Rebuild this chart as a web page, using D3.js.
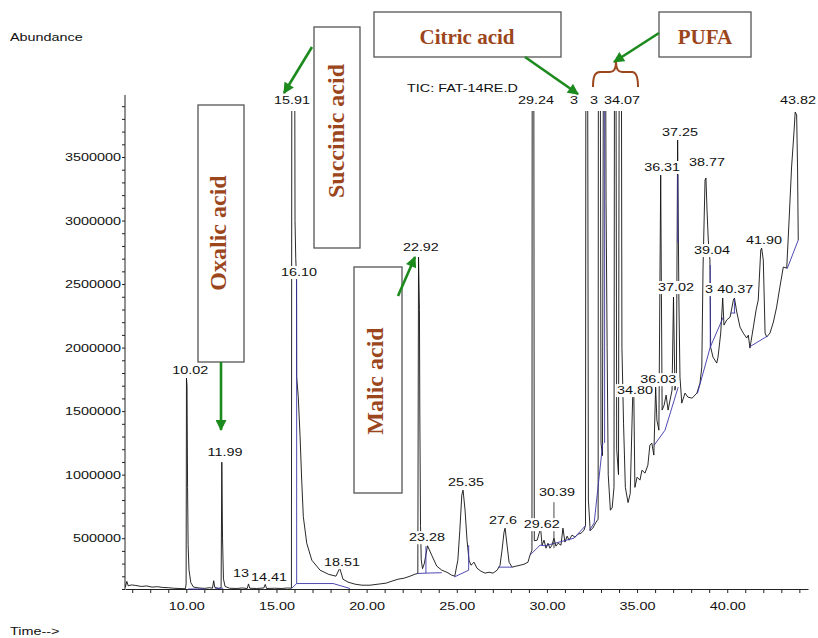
<!DOCTYPE html>
<html>
<head>
<meta charset="utf-8">
<script src="https://cdn.jsdelivr.net/npm/d3@7"></script>
<style>
body { margin: 0; background: #fff; }
svg { display: block; }
.cs { font-family: "Liberation Sans", Arial, sans-serif; font-size: 11.5px; fill: #111; }
.note { font-family: "Liberation Serif", "Times New Roman", serif; font-weight: bold; fill: #9b461c; }
</style>
</head>
<body>
<script>
// ---- data (time in min, abundance) ----
const signal = [
  [6.62,115000],[6.70,160000],[6.78,125000],[6.95,132000],[7.2,128000],[7.5,120000],[7.8,124000],
  [8.1,115000],[8.4,118000],[8.7,112000],[9.0,110000],[9.3,106000],[9.6,104000],[9.95,102000],
  [9.99,140000],[10.01,1760000],[10.04,1700000],[10.07,900000],[10.1,450000],[10.15,250000],
  [10.25,150000],[10.4,115000],[10.7,108000],[11.0,105000],[11.3,110000],[11.45,106000],
  [11.52,165000],[11.58,112000],[11.8,104000],[11.93,110000],[11.97,1098000],[12.01,500000],
  [12.06,180000],[12.15,120000],[12.4,106000],[12.8,104000],[13.1,108000],[13.38,104000],
  [13.45,140000],[13.52,106000],[13.9,104000],[14.3,108000],[14.38,138000],[14.45,104000],
  [14.9,106000],[15.3,104000],[15.6,108000],[15.83,106000],
  [15.86,6000000],[15.99,6000000],[16.03,3000000],[16.07,2700000],[16.11,2560000],[16.12,1770000],
  [16.21,1613000],[16.31,1300000],[16.40,957000],[16.49,669000],[16.68,460000],[16.96,327000],
  [17.42,248000],[17.9,215000],[18.3,201000],[18.51,264000],[18.69,177000],[18.97,154000],
  [19.36,138000],[19.74,130000],[20.19,130000],[20.63,138000],[21.08,146000],[21.41,162000],
  [21.74,177000],[22.08,185000],[22.41,201000],[22.69,217000],[22.84,222000],
  [22.88,2712000],[22.93,2300000],[22.95,1500000],[22.99,600000],[23.03,330000],[23.1,260000],
  [23.2,300000],[23.38,440000],[23.61,366000],[23.89,280000],[24.17,248000],[24.45,232000],
  [24.72,209000],[24.89,201000],[25.06,327000],[25.17,563000],[25.28,840000],[25.35,878000],
  [25.46,720000],[25.57,484000],[25.68,327000],[25.79,287000],[25.96,311000],[26.12,264000],
  [26.34,240000],[26.57,225000],[26.79,232000],[27.01,225000],[27.24,248000],[27.40,287000],
  [27.51,405000],[27.62,547000],[27.68,579000],[27.79,445000],[27.90,311000],[28.07,272000],
  [28.29,280000],[28.51,287000],[28.73,295000],[28.95,311000],[29.06,366000],[29.17,405000],
  [29.19,6000000],[29.26,6000000],[29.30,480000],[29.46,484000],[29.57,539000],[29.65,579000],
  [29.73,445000],[29.84,484000],[29.95,421000],[30.06,460000],[30.17,421000],[30.28,445000],
  [30.39,500000],[30.50,437000],[30.62,460000],[30.78,445000],[30.89,579000],[31.00,469000],
  [31.12,516000],[31.23,484000],[31.39,524000],[31.56,508000],[31.73,532000],[31.89,539000],
  [32.06,563000],[32.14,602000],
  [32.17,6000000],[32.24,6000000],[32.30,800000],[32.40,560000],[32.55,580000],[32.70,620000],
  [32.84,650000],[32.86,6000000],[32.94,6000000],[33.00,1250000],[33.08,1150000],[33.16,6000000],
  [33.22,6000000],[33.28,3150000],[33.34,2000000],[33.40,1000000],[33.52,720000],[33.62,740000],
  [33.72,900000],[33.76,6000000],[33.81,6000000],[33.87,1200000],[33.97,1000000],[34.03,6000000],
  [34.11,6000000],[34.16,2000000],[34.25,1400000],[34.35,900000],[34.50,780000],[34.62,850000],
  [34.76,1630000],[34.82,1630000],[34.88,900000],[35.00,980000],[35.16,957000],[35.27,1035000],
  [35.44,1012000],[35.60,1075000],[35.71,1232000],[35.82,1248000],[35.93,1154000],[36.03,1689000],
  [36.10,1429000],[36.21,1350000],[36.31,3358000],[36.39,1508000],[36.50,1547000],[36.61,1626000],
  [36.72,1508000],[36.83,1587000],[36.94,1665000],[37.02,2398000],[37.10,1665000],[37.18,1744000],
  [37.25,3634000],[37.32,2374000],[37.38,1768000],[37.48,1563000],[37.66,1642000],[37.82,1610000],
  [38.05,1602000],[38.32,1642000],[38.49,1720000],[38.59,1846000],[38.66,2634000],[38.77,3319000],
  [38.82,3335000],[38.88,3083000],[38.95,2846000],[39.04,2689000],[39.08,2004000],[39.21,1925000],
  [39.42,1878000],[39.49,1925000],[39.64,2114000],[39.75,2390000],[39.82,2177000],[39.97,2217000],
  [40.16,2240000],[40.34,2374000],[40.40,2390000],[40.53,2280000],[40.71,2161000],[40.89,2114000],
  [41.08,2075000],[41.17,2098000],[41.26,1996000],[41.45,2161000],[41.60,2295000],[41.72,2374000],
  [41.86,2768000],[41.91,2783000],[42.00,2689000],[42.10,2114000],[42.19,2083000],[42.37,2114000],
  [42.56,2201000],[42.74,2319000],[42.92,2476000],[43.11,2634000],[43.30,2626000],[43.44,3028000],
  [43.57,3421000],[43.70,3689000],[43.77,3854000],[43.85,3831000],[43.90,3421000],[43.94,2846000]
];

// integration baselines / drop lines (blue)
const baselines = [
  [[10.10,100000],[11.03,100000]],
  [[11.6,106000],[12.05,106000]],
  [[15.85,106000],[16.12,143000],[18.14,143000],[19.08,104000]],
  [[16.12,143000],[16.12,2540000]],
  [[22.84,222000],[23.29,225000],[24.17,228000]],
  [[23.29,225000],[23.29,437000]],
  [[24.87,195000],[25.66,248000]],
  [[25.66,248000],[25.66,445000]],
  [[27.29,272000],[28.07,272000]],
  [[29.06,366000],[29.62,445000],[29.90,440000],[31.5,500000],[32.15,600000]],
  [[32.35,560000],[32.62,620000],[33.10,1250000]],
  [[33.2,1250000],[33.2,3900000]],
  [[35.95,1232000],[36.55,1350000],[37.28,1689000]],
  [[37.26,2823000],[37.26,3358000]],
  [[38.35,1640000],[39.06,2004000],[39.78,2240000]],
  [[39.06,2004000],[39.06,2650000]],
  [[40.2,2272000],[40.45,2272000]],
  [[40.40,2272000],[40.40,2380000]],
  [[41.22,2004000],[42.22,2090000]],
  [[43.32,2620000],[43.94,2846000]]
];

// peak labels, in retention order (later ones cover earlier ones)
const labelText  = ["10.02","11.99","13","14.41","15.91","16.10","18.51","22.92","23.28","25.35","27.6",
                    "29.24","29.62","30.39","3","3","34.07","34.80","36.03","36.31","37.02","37.25",
                    "38.77","39.04","3","40.37","41.90","43.82"];
const labelTime  = [10.22,12.15,13.04,14.59,15.86,16.25,18.64,23.01,23.35,25.51,27.57,
                    29.40,29.72,30.56,31.50,32.61,34.16,34.89,36.17,36.39,37.16,37.38,
                    38.88,39.16,38.99,40.45,42.04,43.93];
const labelLevel = [1791000,1146000,193000,161000,3917000,2563000,280000,2760000,476000,909000,611000,
                    3917000,579000,830000,3917000,3917000,3917000,1634000,1720000,3390000,2445000,3665000,
                    3429000,2736000,2429000,2429000,2815000,3917000];

const xMinor = d3.range(7, 45, 1);
const xMajor = [10, 15, 20, 25, 30, 35, 40];
const yMinor = d3.range(1, 40).map(i => i * 100000);
const yMajor = [500000, 1000000, 1500000, 2000000, 2500000, 3000000, 3500000];

const compounds = ["Oxalic acid", "Succinic acid", "Malic acid", "Citric acid", "PUFA"];

// ---- drawing ----
const W = 818, H = 638;
const STRETCH = 1.25;

const svg = d3.select("body").append("svg").attr("width", W).attr("height", H);

const x = d3.scaleLinear().domain([6.6, 44.48]).range([125, 808]);
const y = d3.scaleLinear().domain([100000, 3988000]).range([589, 95]);

function stretch(sel) {
  sel.each(function () {
    const w = this.getComputedTextLength();
    if (w > 0) d3.select(this).attr("textLength", w * STRETCH).attr("lengthAdjust", "spacingAndGlyphs");
  });
}

// axes
const gx = svg.append("g")
  .attr("transform", "translate(0," + y.range()[0] + ")")
  .call(d3.axisBottom(x).tickValues(xMinor).tickSize(4).tickSizeOuter(0).tickPadding(9)
    .tickFormat(d => xMajor.includes(d) ? d.toFixed(2) : ""));
gx.selectAll("text").attr("class", "cs").call(stretch);
gx.selectAll("line, path").attr("stroke", "#222");

const gy = svg.append("g")
  .attr("transform", "translate(" + x.range()[0] + ",0)")
  .call(d3.axisLeft(y).tickValues(yMinor).tickSize(3).tickSizeOuter(0).tickPadding(1)
    .tickFormat(d => yMajor.includes(d) ? String(d) : ""));
gy.select(".domain").attr("d", "M0," + y.range()[0] + "V" + y.range()[1]);
gy.selectAll("text").attr("class", "cs").call(stretch);
gy.selectAll("line, path").attr("stroke", "#222");

svg.append("text").attr("class", "cs").attr("x", 10).attr("y", 41).text("Abundance").call(stretch);
svg.append("text").attr("class", "cs").attr("x", 10).attr("y", 635).text("Time-->").call(stretch);
svg.append("text").attr("class", "cs").attr("x", 407).attr("y", 92).text("TIC: FAT-14RE.D").call(stretch);

// signal
svg.append("clipPath").attr("id", "plot")
  .append("rect").attr("x", 125).attr("y", 111).attr("width", 690).attr("height", 482);

const line = d3.line().x(d => x(d[0])).y(d => y(d[1]));

svg.append("path")
  .datum(signal)
  .attr("clip-path", "url(#plot)")
  .attr("d", line)
  .attr("fill", "none")
  .attr("stroke", "#111")
  .attr("stroke-width", 0.9);

svg.append("g").attr("clip-path", "url(#plot)")
  .selectAll("path").data(baselines).join("path")
  .attr("d", line)
  .attr("fill", "none")
  .attr("stroke", "#3a36a8")
  .attr("stroke-width", 0.9);

// leader line under 30.39
svg.append("line")
  .attr("x1", x(30.39)).attr("x2", x(30.39))
  .attr("y1", y(783000)).attr("y2", y(421000))
  .attr("stroke", "#333").attr("stroke-width", 0.9);

// peak labels with white boxes
labelText.forEach((t, i) => {
  const g = svg.append("g");
  const bg = g.append("rect").attr("fill", "#fff");
  const tx = g.append("text").attr("class", "cs")
    .attr("x", x(labelTime[i])).attr("y", y(labelLevel[i]))
    .attr("text-anchor", "middle").text(t);
  const w = tx.node().getComputedTextLength() * STRETCH;
  tx.attr("textLength", w).attr("lengthAdjust", "spacingAndGlyphs");
  bg.attr("x", x(labelTime[i]) - w / 2 - 1).attr("y", y(labelLevel[i]) - 10)
    .attr("width", w + 2).attr("height", 13);
});

// ---- annotations ----
const green = "#1c8a1c";
svg.append("defs").append("marker")
  .attr("id", "head").attr("viewBox", "0 0 10 10").attr("refX", 9).attr("refY", 5)
  .attr("markerUnits", "userSpaceOnUse").attr("markerWidth", 12).attr("markerHeight", 11)
  .attr("orient", "auto")
  .append("path").attr("d", "M0,0L10,5L0,10z").attr("fill", green);

const ann = svg.append("g");

function box(bx, by, bw, bh) {
  ann.append("rect").attr("x", bx).attr("y", by).attr("width", bw).attr("height", bh)
    .attr("fill", "#fff").attr("stroke", "#555").attr("stroke-width", 1.3);
}
function vtext(txt, cx, cy) {
  ann.append("text").attr("class", "note").attr("font-size", 24)
    .attr("text-anchor", "middle")
    .attr("transform", "translate(" + cx + "," + cy + ") rotate(-90)").text(txt);
}
function htext(txt, cx, cy) {
  ann.append("text").attr("class", "note").attr("font-size", 21)
    .attr("text-anchor", "middle").attr("x", cx).attr("y", cy).text(txt);
}
function arrow(x1, y1, x2, y2) {
  ann.append("line").attr("x1", x1).attr("y1", y1).attr("x2", x2).attr("y2", y2)
    .attr("stroke", green).attr("stroke-width", 2.6).attr("marker-end", "url(#head)");
}

box(198, 105, 46, 257);  vtext(compounds[0], 226, 233);  arrow(221, 362, 221, 430);
box(314, 27, 46, 221);   vtext(compounds[1], 344, 131);  arrow(312, 47, 284, 93);
box(354, 267, 48, 226);  vtext(compounds[2], 383, 381);  arrow(398, 296, 415, 257);
box(374, 12, 187, 45);   htext(compounds[3], 467, 44);   arrow(525, 57, 578, 94);
box(659, 12, 92, 45);    htext(compounds[4], 705, 44);   arrow(659, 33, 614, 62);

// curly brace over the PUFA peaks
ann.append("path")
  .attr("d", "M593,87 C593,76 595,72 600,72 L610,72 C614,72 616,68 616,62 C616,68 618,72 622,72 L632,72 C636,72 638,76 638,87")
  .attr("fill", "none").attr("stroke", "#9b461c").attr("stroke-width", 2);
</script>
</body>
</html>
